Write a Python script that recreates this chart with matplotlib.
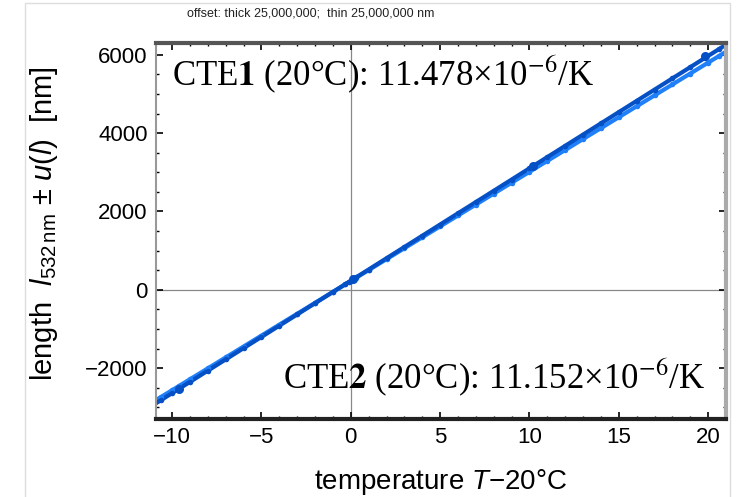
import numpy as np
import matplotlib
matplotlib.use('Agg')
from matplotlib import pyplot as plt
from matplotlib.patches import Rectangle
from matplotlib.ticker import MultipleLocator

plt.rcParams['font.family'] = ['Liberation Sans', 'DejaVu Sans']
plt.rcParams['mathtext.fontset'] = 'custom'
plt.rcParams['mathtext.rm'] = 'Liberation Sans'
plt.rcParams['mathtext.it'] = 'Liberation Sans:italic'
plt.rcParams['mathtext.bf'] = 'Liberation Sans:bold'

# thick sample (dark blue), temperature T-20 degC and length in nm
t_thick = [-10.6, -10.0, -9.6, -9.0, -8.0, -7.0, -6.0, -5.0, -4.0, -3.0, -2.0, -1.0,
           -0.3, -0.1, 0.0, 0.1, 0.3, 1.0, 2.0, 3.0, 4.0, 5.0, 6.0, 7.0, 8.0, 9.0, 10.0, 10.2,
           11.0, 12.0, 13.0, 14.0, 15.0, 16.0, 17.0, 18.0, 19.0, 19.8, 20.6]
l_thick = [-2812, -2640, -2525, -2353, -2066, -1779, -1492, -1205, -918, -631, -344, -57,
           144, 190, 230, 270, 316, 517, 804, 1091, 1378, 1665, 1952, 2239, 2526, 2813, 3100, 3157,
           3387, 3674, 3961, 4248, 4535, 4822, 5109, 5396, 5683, 5913, 6142]
# stable set points of the thick sample (bigger blobs)
t_set = [-9.6, 0.1, 10.2, 19.8]
l_set = [-2525, 270, 3157, 5960]
# thin sample (lighter blue)
t_thin = [-10.6, -10.0, -9.6, -9.0, -8.0, -7.0, -6.0, -5.0, -4.0, -3.0, -2.0, -1.0,
          -0.3, 0.0, 0.3, 1.0, 2.0, 3.0, 4.0, 5.0, 6.0, 7.0, 8.0, 9.0, 10.0,
          11.0, 12.0, 13.0, 14.0, 15.0, 16.0, 17.0, 18.0, 19.0, 20.0, 20.6]
l_thin = [-2732, -2565, -2453, -2286, -2007, -1729, -1450, -1171, -892, -613, -335, -56,
          139, 223, 307, 502, 781, 1059, 1338, 1617, 1896, 2175, 2453, 2732, 3011,
          3290, 3569, 3847, 4126, 4405, 4684, 4963, 5241, 5520, 5799, 5966]
u_len = 50

cte1 = '11.478'
cte2 = '11.152'
offset_label = 'offset: thick 25,000,000;  thin 25,000,000 nm'

c_thick = '#0650c6'
c_thin = '#2080fa'

fig = plt.figure(figsize=(7.4, 4.97), dpi=100)
ax = fig.add_axes([156/740, 1-419/497, 570/740, 376/497])
ax.set_xlim(-10.9, 21.0)
ax.set_ylim(-3300, 6300)

ax.axhline(0, color='#888888', lw=0.9, zorder=1)
ax.axvline(0, color='#888888', lw=0.9, zorder=1)

xx = np.array([-11.5, 21.5])
for t, l, c in [(t_thin, l_thin, c_thin), (t_thick, l_thick, c_thick)]:
    t = np.array(t); l = np.array(l)
    k, b = np.polyfit(t, l, 1)
    ax.plot(xx, k*xx + b, color=c, lw=3.0, zorder=2, solid_capstyle='butt')
    ax.errorbar(t, l, yerr=u_len, fmt='o', ms=4, mew=0, color=c, ecolor=c,
                elinewidth=2.0, capsize=0, zorder=3)
ax.plot(t_set, l_set, 'o', ms=6.5, mew=0, color=c_thick, zorder=4)

ax.xaxis.set_major_locator(MultipleLocator(5))
ax.xaxis.set_minor_locator(MultipleLocator(1))
ax.yaxis.set_major_locator(MultipleLocator(2000))
ax.yaxis.set_minor_locator(MultipleLocator(500))
ax.tick_params(which='both', direction='in', top=True, right=True, color='black')
ax.tick_params(which='major', length=5, width=1.2, labelsize=16, pad=6)
ax.tick_params(which='minor', length=2.5, width=1.0)
ax.set_xticks([-10, -5, 0, 5, 10, 15, 20])
ax.set_xticklabels(['\u221210', '\u22125', '0', '5', '10', '15', '20'])
ax.set_yticks([-2000, 0, 2000, 4000, 6000])
ax.set_yticklabels(['\u22122000', '0', '2000', '4000', '6000'])

ax.spines['top'].set_linewidth(3); ax.spines['top'].set_color('#555555')
ax.spines['bottom'].set_linewidth(3); ax.spines['bottom'].set_color('#222222')
ax.spines['left'].set_linewidth(1.5); ax.spines['left'].set_color('#999999')
ax.spines['right'].set_linewidth(3); ax.spines['right'].set_color('#aaaaaa')

ax.set_xlabel('temperature $T$\u221220\u00b0C', fontsize=20)
ax.xaxis.set_label_coords(0.5, -(482 - 419)/376, transform=ax.transAxes)
ax.xaxis.label.set_va('center')
ax.set_ylabel('length  $l_{532\\,\\mathrm{nm}}$ \u00b1 $u(l)$  [nm]', fontsize=21)
ax.yaxis.set_label_coords(-(156 - 44)/570, (419 - 224)/376, transform=ax.transAxes)
ax.yaxis.label.set_va('center')

ax.text(172/740, 1-85/497, 'CTE$\\mathbf{1}$ (20\u00b0C): ' + cte1 + '\u00d710$^{-6}$/K',
        transform=fig.transFigure, fontsize=25, family='Liberation Serif',
        math_fontfamily='stix', ha='left', va='baseline')
ax.text(283/740, 1-388/497, 'CTE$\\mathbf{2}$ (20\u00b0C): ' + cte2 + '\u00d710$^{-6}$/K',
        transform=fig.transFigure, fontsize=25, family='Liberation Serif',
        math_fontfamily='stix', ha='left', va='baseline')

fig.text(311/740, 1-14/497, offset_label, fontsize=9, ha='center', va='center',
         color='#222222')

fig.add_artist(Rectangle((25/740, -0.1), 705/740, 1.1 - 3/497, transform=fig.transFigure,
                         fill=False, ec='#dddddd', lw=1.0))

fig.savefig('out.png', dpi=100)
